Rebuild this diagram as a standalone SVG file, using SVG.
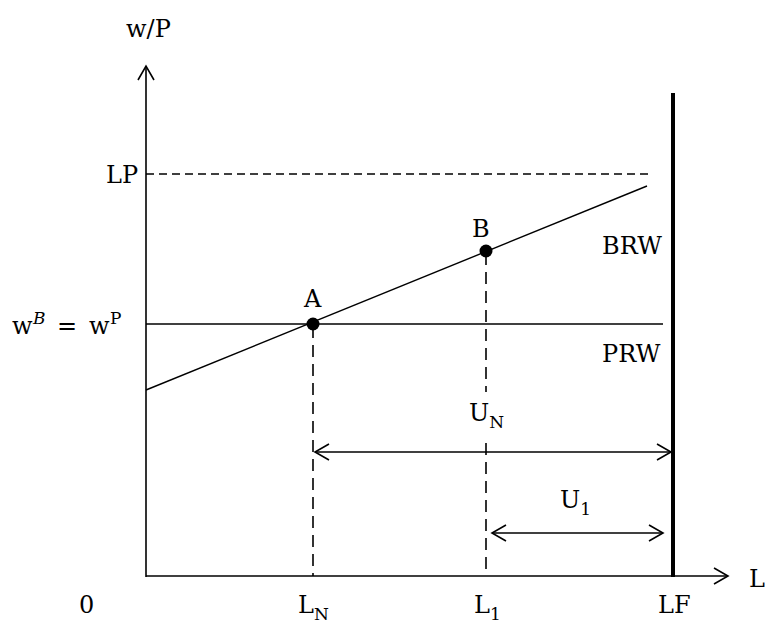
<svg xmlns="http://www.w3.org/2000/svg" width="765" height="623" viewBox="0 0 765 623">
<defs>
<marker id="open" viewBox="0 0 20 20" refX="18" refY="10" markerWidth="20" markerHeight="20" markerUnits="userSpaceOnUse" orient="auto-start-reverse">
<path d="M4,2 L18,10 L4,18" fill="none" stroke="#000" stroke-width="1.6"/>
</marker>
</defs>
<style>
text{font-family:"DejaVu Serif","Liberation Serif",serif;font-size:24px;fill:#000}
.sub{font-size:17px}
.ax{stroke:#000;stroke-width:1.6;fill:none}
.dash{stroke:#000;stroke-width:1.6;stroke-dasharray:12,7;fill:none}
.ln{stroke:#000;stroke-width:1.4;fill:none}
</style>
<rect width="765" height="623" fill="#fff"/>
<g id="connectors">
<line class="ax" x1="146" y1="577" x2="146" y2="66" marker-end="url(#open)"/>
<line class="ax" x1="146" y1="576" x2="728" y2="576" marker-end="url(#open)"/>
<line x1="673" y1="93" x2="673" y2="577" stroke="#000" stroke-width="4"/>
<line x1="146" y1="174" x2="653" y2="174" stroke="#000" stroke-width="1.4" stroke-dasharray="8,5"/>
<line class="ln" x1="146" y1="390" x2="647" y2="186"/>
<line class="ln" x1="146" y1="324" x2="663" y2="324"/>
<line class="dash" x1="313" y1="326" x2="313" y2="576"/>
<line class="dash" x1="486" y1="253" x2="486" y2="392"/>
<line class="dash" x1="486" y1="443" x2="486" y2="576"/>
<line class="ax" x1="315" y1="452" x2="671" y2="452" marker-start="url(#open)" marker-end="url(#open)"/>
<line class="ax" x1="492" y1="533" x2="663" y2="533" marker-start="url(#open)" marker-end="url(#open)"/>
</g>
<g id="pointA"><circle cx="313" cy="324" r="6.5" fill="#000"/><text x="304" y="307">A</text></g>
<g id="pointB"><circle cx="486" cy="251" r="6.5" fill="#000"/><text x="472" y="237">B</text></g>
<g id="labels">
<text x="126" y="37">w/P</text>
<text x="106" y="183">LP</text>
<text y="334"><tspan x="12">w</tspan><tspan class="sub" x="33" dy="-10" font-style="italic">B</tspan><tspan x="57" dy="10">=</tspan><tspan x="89">w</tspan><tspan class="sub" x="110" dy="-10">P</tspan></text>
<text x="602" y="254">BRW</text>
<text x="602" y="362">PRW</text>
<text x="469" y="421">U<tspan class="sub" dy="7">N</tspan></text>
<text x="560" y="508">U<tspan class="sub" dy="7">1</tspan></text>
<text x="79" y="613">0</text>
<text x="298" y="613">L<tspan class="sub" dy="7">N</tspan></text>
<text x="474" y="613">L<tspan class="sub" dy="7">1</tspan></text>
<text x="658" y="613">LF</text>
<text x="749" y="587">L</text>
</g>
</svg>
